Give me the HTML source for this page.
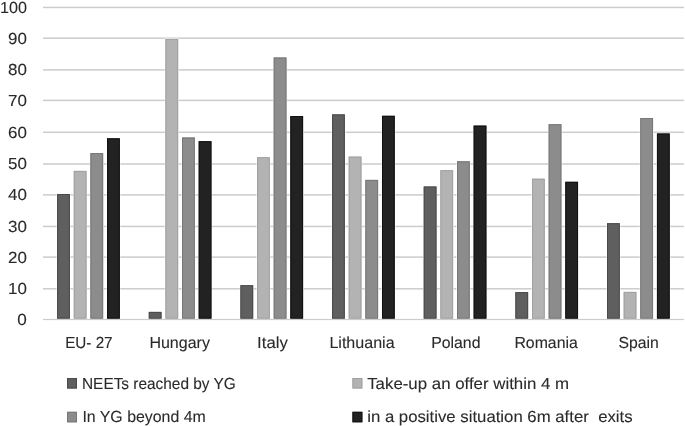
<!DOCTYPE html>
<html><head><meta charset="utf-8"><title>Chart</title>
<style>
html,body{margin:0;padding:0;background:#fff;overflow:hidden;}
svg{display:block;}
text{font-family:"Liberation Sans",Arial,sans-serif;fill:#2a2a2a;text-rendering:geometricPrecision;stroke:#2a2a2a;stroke-width:0.1px;}
</style></head><body>
<svg width="685" height="426" viewBox="0 0 685 426">
<rect x="0" y="0" width="685" height="426" fill="#fff"/>

<rect x="43" y="6.70" width="640.9" height="1.5" fill="#cccccc"/>
<rect x="43" y="37.45" width="640.9" height="1.5" fill="#cccccc"/>
<rect x="43" y="69.15" width="640.9" height="1.5" fill="#cccccc"/>
<rect x="43" y="99.65" width="640.9" height="1.5" fill="#cccccc"/>
<rect x="43" y="131.55" width="640.9" height="1.5" fill="#cccccc"/>
<rect x="43" y="163.25" width="640.9" height="1.5" fill="#cccccc"/>
<rect x="43" y="194.15" width="640.9" height="1.5" fill="#cccccc"/>
<rect x="43" y="225.70" width="640.9" height="1.5" fill="#cccccc"/>
<rect x="43" y="256.35" width="640.9" height="1.5" fill="#cccccc"/>
<rect x="43" y="288.05" width="640.9" height="1.5" fill="#cccccc"/>
<rect x="56.52" y="193.40" width="13.95" height="125.30" fill="#fff"/>
<rect x="57.12" y="194.00" width="12.75" height="124.70" fill="#5f5f5f"/>
<rect x="57.62" y="194.50" width="11.75" height="123.70" fill="none" stroke="#4a4a4a" stroke-width="1"/>
<rect x="73.16" y="170.30" width="13.95" height="148.40" fill="#fff"/>
<rect x="73.76" y="170.90" width="12.75" height="147.80" fill="#b3b3b3"/>
<rect x="74.26" y="171.40" width="11.75" height="146.80" fill="none" stroke="#a0a0a0" stroke-width="1"/>
<rect x="89.80" y="152.50" width="13.95" height="166.20" fill="#fff"/>
<rect x="90.40" y="153.10" width="12.75" height="165.60" fill="#8c8c8c"/>
<rect x="90.90" y="153.60" width="11.75" height="164.60" fill="none" stroke="#777777" stroke-width="1"/>
<rect x="106.44" y="137.70" width="13.95" height="181.00" fill="#fff"/>
<rect x="107.04" y="138.30" width="12.75" height="180.40" fill="#222222"/>
<rect x="107.54" y="138.80" width="11.75" height="179.40" fill="none" stroke="#111111" stroke-width="1"/>
<rect x="148.17" y="311.30" width="13.95" height="7.40" fill="#fff"/>
<rect x="148.77" y="311.90" width="12.75" height="6.80" fill="#5f5f5f"/>
<rect x="149.27" y="312.40" width="11.75" height="5.80" fill="none" stroke="#4a4a4a" stroke-width="1"/>
<rect x="164.81" y="38.30" width="13.95" height="280.40" fill="#fff"/>
<rect x="165.41" y="38.90" width="12.75" height="279.80" fill="#b3b3b3"/>
<rect x="165.91" y="39.40" width="11.75" height="278.80" fill="none" stroke="#a0a0a0" stroke-width="1"/>
<rect x="181.45" y="136.90" width="13.95" height="181.80" fill="#fff"/>
<rect x="182.05" y="137.50" width="12.75" height="181.20" fill="#8c8c8c"/>
<rect x="182.55" y="138.00" width="11.75" height="180.20" fill="none" stroke="#777777" stroke-width="1"/>
<rect x="198.09" y="140.60" width="13.95" height="178.10" fill="#fff"/>
<rect x="198.69" y="141.20" width="12.75" height="177.50" fill="#222222"/>
<rect x="199.19" y="141.70" width="11.75" height="176.50" fill="none" stroke="#111111" stroke-width="1"/>
<rect x="239.82" y="284.60" width="13.95" height="34.10" fill="#fff"/>
<rect x="240.42" y="285.20" width="12.75" height="33.50" fill="#5f5f5f"/>
<rect x="240.92" y="285.70" width="11.75" height="32.50" fill="none" stroke="#4a4a4a" stroke-width="1"/>
<rect x="256.46" y="156.60" width="13.95" height="162.10" fill="#fff"/>
<rect x="257.06" y="157.20" width="12.75" height="161.50" fill="#b3b3b3"/>
<rect x="257.56" y="157.70" width="11.75" height="160.50" fill="none" stroke="#a0a0a0" stroke-width="1"/>
<rect x="273.10" y="56.90" width="13.95" height="261.80" fill="#fff"/>
<rect x="273.70" y="57.50" width="12.75" height="261.20" fill="#8c8c8c"/>
<rect x="274.20" y="58.00" width="11.75" height="260.20" fill="none" stroke="#777777" stroke-width="1"/>
<rect x="289.74" y="115.40" width="13.95" height="203.30" fill="#fff"/>
<rect x="290.34" y="116.00" width="12.75" height="202.70" fill="#222222"/>
<rect x="290.84" y="116.50" width="11.75" height="201.70" fill="none" stroke="#111111" stroke-width="1"/>
<rect x="331.47" y="113.80" width="13.95" height="204.90" fill="#fff"/>
<rect x="332.07" y="114.40" width="12.75" height="204.30" fill="#5f5f5f"/>
<rect x="332.57" y="114.90" width="11.75" height="203.30" fill="none" stroke="#4a4a4a" stroke-width="1"/>
<rect x="348.11" y="156.00" width="13.95" height="162.70" fill="#fff"/>
<rect x="348.71" y="156.60" width="12.75" height="162.10" fill="#b3b3b3"/>
<rect x="349.21" y="157.10" width="11.75" height="161.10" fill="none" stroke="#a0a0a0" stroke-width="1"/>
<rect x="364.75" y="179.30" width="13.95" height="139.40" fill="#fff"/>
<rect x="365.35" y="179.90" width="12.75" height="138.80" fill="#8c8c8c"/>
<rect x="365.85" y="180.40" width="11.75" height="137.80" fill="none" stroke="#777777" stroke-width="1"/>
<rect x="381.39" y="115.20" width="13.95" height="203.50" fill="#fff"/>
<rect x="381.99" y="115.80" width="12.75" height="202.90" fill="#222222"/>
<rect x="382.49" y="116.30" width="11.75" height="201.90" fill="none" stroke="#111111" stroke-width="1"/>
<rect x="423.12" y="185.90" width="13.95" height="132.80" fill="#fff"/>
<rect x="423.72" y="186.50" width="12.75" height="132.20" fill="#5f5f5f"/>
<rect x="424.22" y="187.00" width="11.75" height="131.20" fill="none" stroke="#4a4a4a" stroke-width="1"/>
<rect x="439.76" y="169.60" width="13.95" height="149.10" fill="#fff"/>
<rect x="440.36" y="170.20" width="12.75" height="148.50" fill="#b3b3b3"/>
<rect x="440.86" y="170.70" width="11.75" height="147.50" fill="none" stroke="#a0a0a0" stroke-width="1"/>
<rect x="456.40" y="160.70" width="13.95" height="158.00" fill="#fff"/>
<rect x="457.00" y="161.30" width="12.75" height="157.40" fill="#8c8c8c"/>
<rect x="457.50" y="161.80" width="11.75" height="156.40" fill="none" stroke="#777777" stroke-width="1"/>
<rect x="473.04" y="125.00" width="13.95" height="193.70" fill="#fff"/>
<rect x="473.64" y="125.60" width="12.75" height="193.10" fill="#222222"/>
<rect x="474.14" y="126.10" width="11.75" height="192.10" fill="none" stroke="#111111" stroke-width="1"/>
<rect x="514.77" y="291.50" width="13.95" height="27.20" fill="#fff"/>
<rect x="515.37" y="292.10" width="12.75" height="26.60" fill="#5f5f5f"/>
<rect x="515.87" y="292.60" width="11.75" height="25.60" fill="none" stroke="#4a4a4a" stroke-width="1"/>
<rect x="531.41" y="178.10" width="13.95" height="140.60" fill="#fff"/>
<rect x="532.01" y="178.70" width="12.75" height="140.00" fill="#b3b3b3"/>
<rect x="532.51" y="179.20" width="11.75" height="139.00" fill="none" stroke="#a0a0a0" stroke-width="1"/>
<rect x="548.05" y="123.60" width="13.95" height="195.10" fill="#fff"/>
<rect x="548.65" y="124.20" width="12.75" height="194.50" fill="#8c8c8c"/>
<rect x="549.15" y="124.70" width="11.75" height="193.50" fill="none" stroke="#777777" stroke-width="1"/>
<rect x="564.69" y="181.20" width="13.95" height="137.50" fill="#fff"/>
<rect x="565.29" y="181.80" width="12.75" height="136.90" fill="#222222"/>
<rect x="565.79" y="182.30" width="11.75" height="135.90" fill="none" stroke="#111111" stroke-width="1"/>
<rect x="606.42" y="222.60" width="13.95" height="96.10" fill="#fff"/>
<rect x="607.02" y="223.20" width="12.75" height="95.50" fill="#5f5f5f"/>
<rect x="607.52" y="223.70" width="11.75" height="94.50" fill="none" stroke="#4a4a4a" stroke-width="1"/>
<rect x="623.06" y="291.30" width="13.95" height="27.40" fill="#fff"/>
<rect x="623.66" y="291.90" width="12.75" height="26.80" fill="#b3b3b3"/>
<rect x="624.16" y="292.40" width="11.75" height="25.80" fill="none" stroke="#a0a0a0" stroke-width="1"/>
<rect x="639.70" y="117.40" width="13.95" height="201.30" fill="#fff"/>
<rect x="640.30" y="118.00" width="12.75" height="200.70" fill="#8c8c8c"/>
<rect x="640.80" y="118.50" width="11.75" height="199.70" fill="none" stroke="#777777" stroke-width="1"/>
<rect x="656.34" y="132.90" width="13.95" height="185.80" fill="#fff"/>
<rect x="656.94" y="133.50" width="12.75" height="185.20" fill="#222222"/>
<rect x="657.44" y="134.00" width="11.75" height="184.20" fill="none" stroke="#111111" stroke-width="1"/>
<rect x="43" y="318.90" width="640.9" height="1.2" fill="#cccccc"/>
<text x="26.9" y="325.45" font-size="16" text-anchor="end" textLength="9.52" lengthAdjust="spacingAndGlyphs">0</text>
<text x="26.9" y="294.17" font-size="16" text-anchor="end" textLength="18.86" lengthAdjust="spacingAndGlyphs">10</text>
<text x="26.9" y="262.89" font-size="16" text-anchor="end" textLength="18.86" lengthAdjust="spacingAndGlyphs">20</text>
<text x="26.9" y="231.61" font-size="16" text-anchor="end" textLength="18.86" lengthAdjust="spacingAndGlyphs">30</text>
<text x="26.9" y="200.33" font-size="16" text-anchor="end" textLength="18.86" lengthAdjust="spacingAndGlyphs">40</text>
<text x="26.9" y="169.05" font-size="16" text-anchor="end" textLength="18.86" lengthAdjust="spacingAndGlyphs">50</text>
<text x="26.9" y="137.77" font-size="16" text-anchor="end" textLength="18.86" lengthAdjust="spacingAndGlyphs">60</text>
<text x="26.9" y="106.49" font-size="16" text-anchor="end" textLength="18.86" lengthAdjust="spacingAndGlyphs">70</text>
<text x="26.9" y="75.21" font-size="16" text-anchor="end" textLength="18.86" lengthAdjust="spacingAndGlyphs">80</text>
<text x="26.9" y="43.93" font-size="16" text-anchor="end" textLength="18.86" lengthAdjust="spacingAndGlyphs">90</text>
<text x="26.9" y="12.65" font-size="16" text-anchor="end" textLength="26.96" lengthAdjust="spacingAndGlyphs">100</text>
<text x="65.20" y="348" font-size="16" textLength="47.40" lengthAdjust="spacingAndGlyphs">EU- 27</text>
<text x="149.40" y="348" font-size="16" textLength="60.50" lengthAdjust="spacingAndGlyphs">Hungary</text>
<text x="257.10" y="348" font-size="16" textLength="30.70" lengthAdjust="spacingAndGlyphs">Italy</text>
<text x="329.40" y="348" font-size="16" textLength="65.20" lengthAdjust="spacingAndGlyphs">Lithuania</text>
<text x="431.20" y="348" font-size="16" textLength="49.30" lengthAdjust="spacingAndGlyphs">Poland</text>
<text x="514.40" y="348" font-size="16" textLength="63.40" lengthAdjust="spacingAndGlyphs">Romania</text>
<text x="618.40" y="348" font-size="16" textLength="40.30" lengthAdjust="spacingAndGlyphs">Spain</text>
<rect x="67.05" y="378" width="9.9" height="10.5" fill="#5f5f5f"/>
<rect x="67.55" y="378.5" width="8.9" height="9.5" fill="none" stroke="#4a4a4a" stroke-width="1"/>
<rect x="352.45" y="378" width="9.9" height="10.5" fill="#b3b3b3"/>
<rect x="352.95" y="378.5" width="8.9" height="9.5" fill="none" stroke="#a0a0a0" stroke-width="1"/>
<rect x="67.05" y="411.8" width="9.9" height="10.5" fill="#8c8c8c"/>
<rect x="67.55" y="412.3" width="8.9" height="9.5" fill="none" stroke="#777777" stroke-width="1"/>
<rect x="352.45" y="411.8" width="9.9" height="10.5" fill="#222222"/>
<rect x="352.95" y="412.3" width="8.9" height="9.5" fill="none" stroke="#111111" stroke-width="1"/>
<text x="82.00" y="388.5" font-size="16" textLength="153.80" lengthAdjust="spacingAndGlyphs" xml:space="preserve" style="white-space:pre">NEETs reached by YG</text>
<text x="367.20" y="388.5" font-size="16" textLength="201.90" lengthAdjust="spacingAndGlyphs" xml:space="preserve" style="white-space:pre">Take-up an offer within 4 m</text>
<text x="82.40" y="422" font-size="16" textLength="123.40" lengthAdjust="spacingAndGlyphs" xml:space="preserve" style="white-space:pre">In YG beyond 4m</text>
<text x="367.20" y="422" font-size="16" textLength="265.40" lengthAdjust="spacingAndGlyphs" xml:space="preserve" style="white-space:pre">in a positive situation 6m after  exits</text>
</svg>
</body></html>
